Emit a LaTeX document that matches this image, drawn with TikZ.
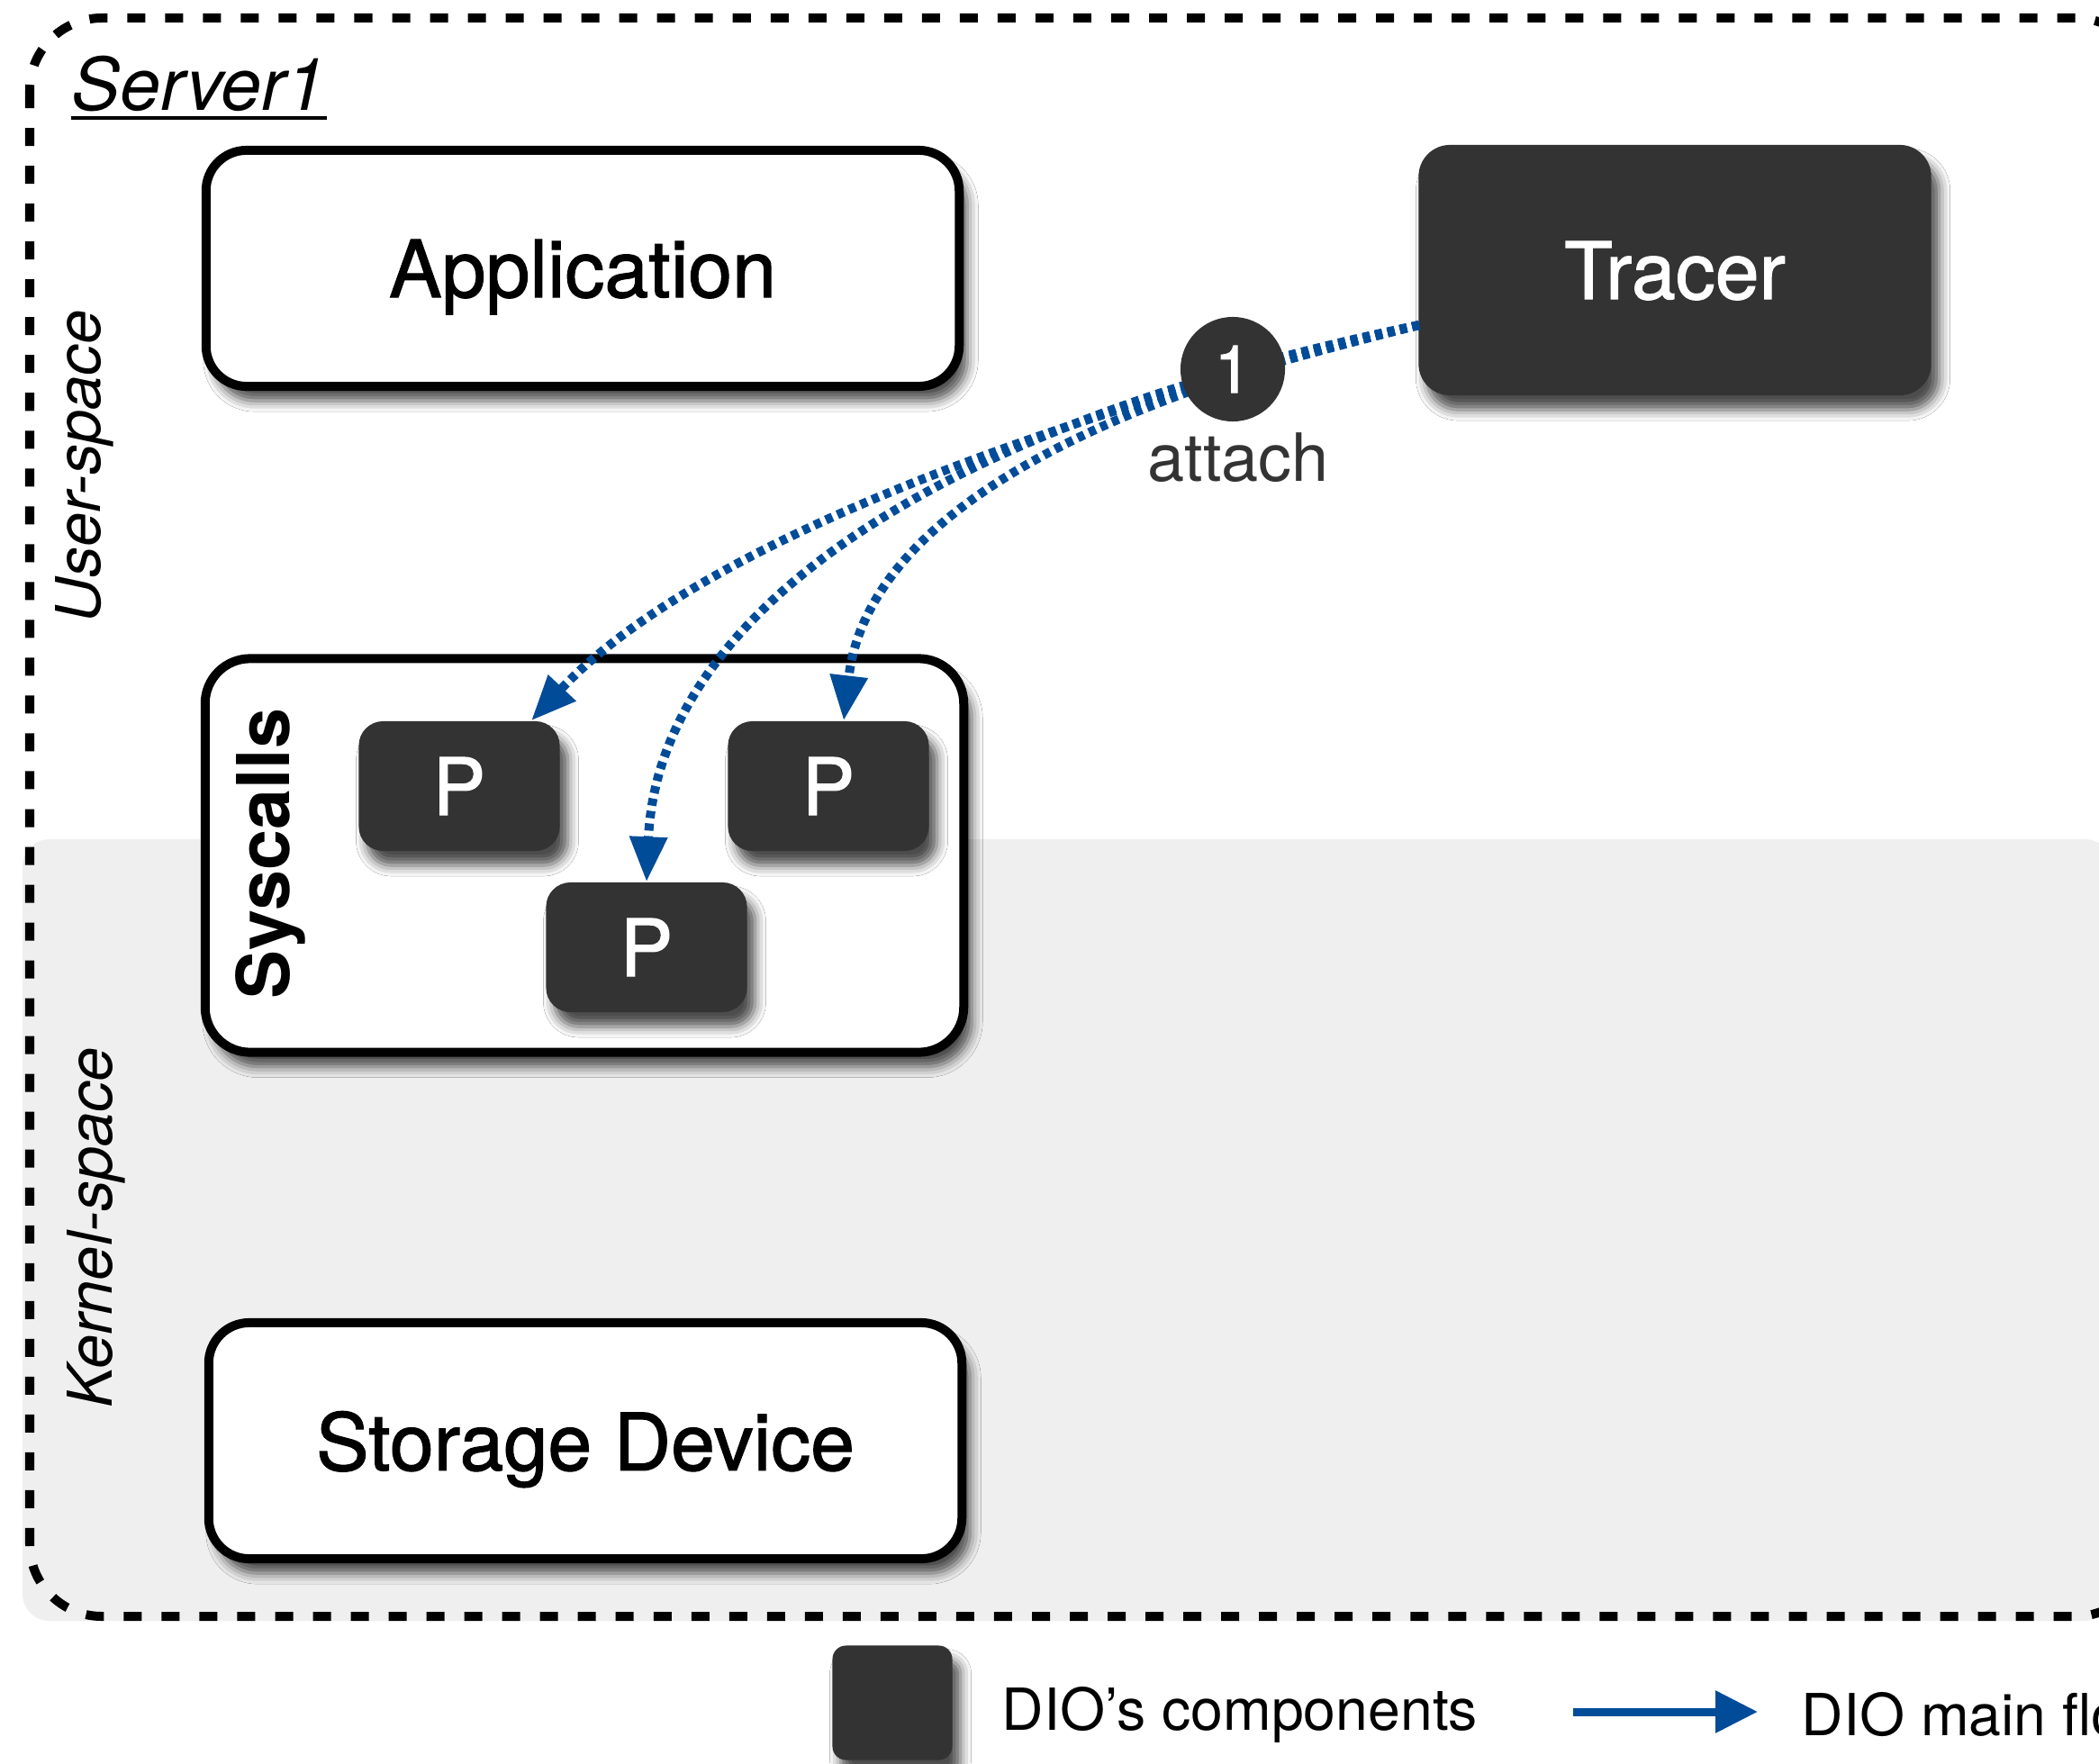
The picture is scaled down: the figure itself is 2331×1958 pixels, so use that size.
\documentclass[tikz,border=0pt]{standalone}
\usepackage{fontspec}
\setmainfont{TeX Gyre Heros}
\newfontfamily\medfont{TeX Gyre Heros}[FakeBold=1.3]
\usetikzlibrary{arrows.meta,shadows.blur,calc}
\definecolor{dark}{HTML}{333333}
\definecolor{kgray}{HTML}{EFEFEF}
\definecolor{dioblue}{HTML}{004C99}
\tikzset{
  shad/.style={blur shadow={shadow xshift=0.09cm, shadow yshift=-0.16cm, shadow blur radius=0.12cm, shadow opacity=70}},
  whitebox/.style={draw=black, line width=0.1cm, fill=white, rounded corners=0.45cm, inner sep=0pt, text depth=0pt, shad, font=\medfont\fontsize{25}{25}\selectfont},
  darkbox/.style={fill=dark, rounded corners=0.35cm, inner sep=0pt, text depth=0pt, shad, text=white, font=\medfont\fontsize{25}{25}\selectfont},
  pbox/.style={darkbox, rounded corners=0.27cm, minimum width=2.23cm, minimum height=1.44cm},
  flow/.style={draw=dioblue, line width=0.1cm, dash pattern=on 0.08cm off 0.06cm, -{Triangle[length=0.5cm,width=0.4cm]}},
  sidelabel/.style={font=\itshape\fontsize{19.5}{19.5}\selectfont, rotate=90, inner sep=0pt}
}
\begin{document}
\begin{tikzpicture}[x=0.01cm, y=-0.01cm]
\useasboundingbox (0,0) rectangle (2331,1958);
\clip (0,0) rectangle (2331,1958);
\fill[white] (0,0) rectangle (2331,1958);
% kernel space background
\fill[kgray, rounded corners=0.3cm] (25,932) rectangle (2345,1800);
% server border
\draw[line width=0.1cm, dash pattern=on 0.2cm off 0.22cm, rounded corners=0.8cm] (33,20) rectangle (2385,1795);
% labels
\node[anchor=base west, inner sep=0pt, font=\itshape\fontsize{23}{23}\selectfont] (srv) at (79,123) {Server1};
\draw[line width=0.045cm] (srv.base west) ++(0,8) coordinate (ul1) -- (ul1 -| srv.base east);
\node[sidelabel] (us) at (94,518) {User-space};
\node[sidelabel] (ks) at (107,1363) {Kernel-space};
% boxes
\node[whitebox, minimum width=8.36cm, minimum height=2.62cm] (app) at (647,298) {Application};
\node[darkbox, minimum width=5.69cm, minimum height=2.78cm] (tracer) at (1860,300) {Tracer};
\node[whitebox, rounded corners=0.5cm, minimum width=8.42cm, minimum height=4.37cm] (sys) at (649,950) {};
\node[rotate=90, inner sep=0pt, font=\bfseries\fontsize{23}{23}\selectfont] (syslbl) at (300,948) {Syscalls};
\node[pbox] (p1) at (510,873) {P};
\node[pbox] (p2) at (920,873) {P};
\node[pbox] (p3) at (718,1052) {P};
\node[whitebox, minimum width=8.36cm, minimum height=2.62cm] (sto) at (650,1600) {Storage Device};
% flows
\coordinate (src) at (1576,361);
\draw[flow] (src) .. controls (1100,480) and (760,620) .. ($(p1.north)+(80,0)$);
\draw[flow] (src) .. controls (1000,480) and (730,700) .. (p3.north);
\draw[flow] (src) .. controls (1150,460) and (960,600) .. ($(p2.north)+(17,0)$);
\node[circle, fill=dark, minimum size=1.16cm, inner sep=0pt, text=white, font=\medfont\fontsize{21}{21}\selectfont] (step1) at (1369,410) {1};
\node[text=dark, inner sep=0pt, font=\fontsize{21}{21}\selectfont] (att) at (1375,508) {attach};
% legend
\node[darkbox, rounded corners=0.15cm, minimum width=1.33cm, minimum height=1.27cm] (lgbox) at (991,1891) {};
\node[anchor=west, inner sep=0pt, font=\fontsize{18.3}{18.3}\selectfont] (lgtxt1) at (1112,1904) {DIO’s components};
\coordinate (la) at (1747,1901);
\coordinate (lb) at (1952,1901);
\draw[dioblue, line width=0.09cm, -{Triangle[length=0.47cm,width=0.45cm]}] (la) -- (lb);
\node[anchor=west, inner sep=0pt, font=\fontsize{18.3}{18.3}\selectfont] (lgtxt2) at (2000,1904) {DIO main flow};
\end{tikzpicture}
\end{document}
